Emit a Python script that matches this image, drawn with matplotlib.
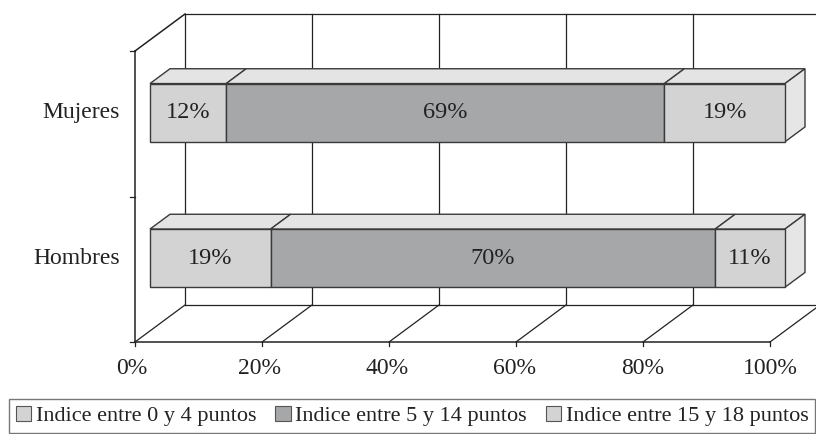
import matplotlib.pyplot as plt
from matplotlib.patches import Polygon, Patch

# data
categories = ['Hombres', 'Mujeres']
series_names = ['Indice entre 0 y 4 puntos', 'Indice entre 5 y 14 puntos',
                'Indice entre 15 y 18 puntos']
hombres = [19, 70, 11]
mujeres = [12, 69, 19]
values = [hombres, mujeres]
tick_values = [0, 20, 40, 60, 80, 100]
tick_labels = ['0%', '20%', '40%', '60%', '80%', '100%']

front_colors = ['#d3d3d4', '#a6a7a9', '#d3d3d4']
top_colors = ['#e4e4e5', '#e4e4e5', '#e4e4e5']
side_color = '#e6e6e7'

plt.rcParams['font.family'] = ['Liberation Serif', 'DejaVu Serif']

fig = plt.figure(figsize=(8.16, 4.34), dpi=100)
ax = fig.add_axes([0, 0, 1, 1])
ax.set_xlim(0, 816)
ax.set_ylim(434, 0)
ax.axis('off')

# 3d box geometry (pixels)
X0, Y0 = 135, 342          # front-left floor corner
PX_PER_PCT = 6.35
DEPTH_DX, DEPTH_DY = 50, -37
WALL_H = 291
slot = WALL_H / len(categories)
bar_h = slot * 0.4
bar_d0, bar_d1 = 0.3, 0.7


def proj(v, h, d):
    return (X0 + v * PX_PER_PCT + d * DEPTH_DX, Y0 - h + d * DEPTH_DY)


lc = '#222222'
txt = '#222222'
# back wall and floor grid
for v, lab in zip(tick_values, tick_labels):
    xb, yb = proj(v, 0, 1)
    xt, yt = proj(v, WALL_H, 1)
    ax.plot([xb, xt], [yb, yt], color=lc, lw=0.9, zorder=1)
    xf, yf = proj(v, 0, 0)
    ax.plot([xf, xb], [yf, yb], color=lc, lw=0.9, zorder=1)
    ax.plot([xf, xf], [yf, yf + 4], color=lc, lw=0.9, zorder=1)
    ax.text(xf - 3 + v * 0.03, yf + 26, lab, ha='center', va='center',
            fontsize=17, color=txt)
for h in [0, WALL_H]:
    a = proj(0, h, 1)
    b = proj(110, h, 1)
    ax.plot([a[0], b[0]], [a[1], b[1]], color=lc, lw=0.9, zorder=1)

# left wall
a, b = proj(0, 0, 0), proj(0, WALL_H, 0)
ax.plot([a[0], b[0]], [a[1], b[1]], color=lc, lw=1.1, zorder=1)
c = proj(0, WALL_H, 1)
ax.plot([b[0], c[0]], [b[1], c[1]], color=lc, lw=1.1, zorder=1)
e = proj(100, 0, 0)
ax.plot([a[0], e[0]], [a[1], e[1]], color=lc, lw=1.1, zorder=1)
for i in range(len(categories) + 1):
    p = proj(0, i * slot, 0)
    ax.plot([p[0] - 5, p[0]], [p[1], p[1]], color=lc, lw=0.9, zorder=1)

# stacked 3d bars
for i, (cat, vals) in enumerate(zip(categories, values)):
    hc = (i + 0.5) * slot
    lo, hi = hc - bar_h / 2, hc + bar_h / 2
    lab = proj(0, hc, bar_d0)
    ax.text(lab[0] - 30, lab[1], cat, ha='right', va='center', fontsize=17,
            color=txt)
    start = 0
    for j, v in enumerate(vals):
        end = start + v
        front = [proj(start, lo, bar_d0), proj(end, lo, bar_d0),
                 proj(end, hi, bar_d0), proj(start, hi, bar_d0)]
        top = [proj(start, hi, bar_d0), proj(end, hi, bar_d0),
               proj(end, hi, bar_d1), proj(start, hi, bar_d1)]
        ax.add_patch(Polygon(top, closed=True, fc=top_colors[j], ec='#3a3a3a',
                             lw=1.0, zorder=3))
        ax.add_patch(Polygon(front, closed=True, fc=front_colors[j],
                             ec='#3a3a3a', lw=1.0, zorder=4))
        if j == len(vals) - 1:
            side = [proj(end, lo, bar_d0), proj(end, lo, bar_d1),
                    proj(end, hi, bar_d1), proj(end, hi, bar_d0)]
            ax.add_patch(Polygon(side, closed=True, fc=side_color,
                                 ec='#3a3a3a', lw=1.0, zorder=3))
        cx, cy = proj((start + end) / 2, hc, bar_d0)
        ax.text(cx, cy, f'{v}%', ha='center', va='center', fontsize=17.5,
                color=txt, zorder=5)
        start = end

handles = [Patch(fc=front_colors[j], ec='#555555', lw=0.8)
           for j in range(len(series_names))]
leg = fig.legend(handles, series_names, ncol=3, loc='lower left',
                 bbox_to_anchor=(9 / 816, 1 / 434, 806 / 816, 36 / 434),
                 mode='expand', frameon=True, fancybox=False, fontsize=16,
                 handlelength=0.7, handleheight=0.7, handletextpad=0.2,
                 columnspacing=0.8, borderpad=0.3, borderaxespad=0,
                 labelcolor=txt)
leg.get_frame().set_edgecolor('#555555')
leg.get_frame().set_linewidth(1.0)

fig.savefig('out.png', dpi=100)
